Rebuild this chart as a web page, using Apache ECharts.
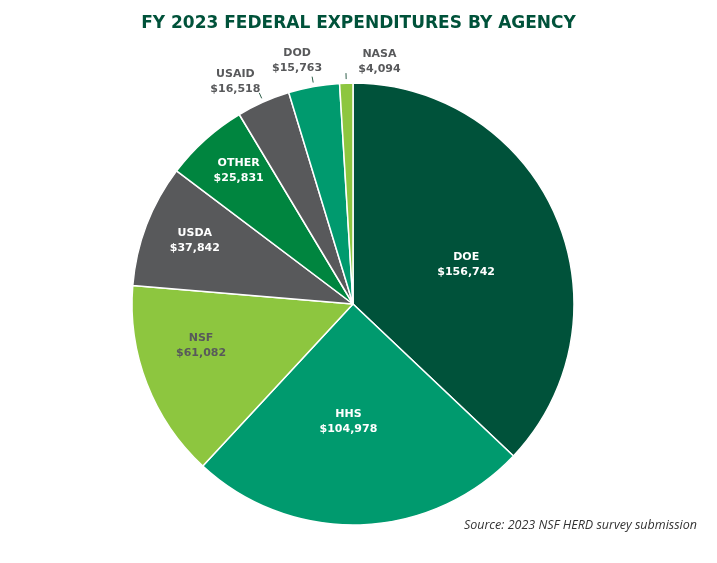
<!DOCTYPE html>
<html><head><meta charset="utf-8">
<script src="https://cdn.jsdelivr.net/npm/echarts@6/dist/echarts.min.js"></script>
<style>html,body{margin:0;padding:0;background:#fff}#c{width:717px;height:563px}</style>
</head><body><div id="c"></div>
<script>
const agencies = ['DOE','HHS','NSF','USDA','OTHER','USAID','DOD','NASA'];
const amounts = [156742,104978,61082,37842,25831,16518,15763,4094];
const sliceColors = ['#00523A','#009A6E','#8DC63F','#58595B','#00853F','#58595B','#009A6E','#8DC63F'];
const labelColors = ['#ffffff','#ffffff','#58595B','#ffffff','#ffffff','#58595B','#58595B','#58595B'];
const titleText = 'FY 2023 FEDERAL EXPENDITURES BY AGENCY';
const sourceText = 'Source: 2023 NSF HERD survey submission';

const FONT = 'DejaVu Sans';
const C = [353, 304];
const R = 221;
const fmt = v => '$' + v.toLocaleString('en-US');

function labelSeries(show, r0, r1, nudges) {
  return {
    type: 'pie', center: C, radius: [r0, r1], startAngle: 90, clockwise: true,
    silent: true, avoidLabelOverlap: false, animation: false,
    itemStyle: { color: 'rgba(0,0,0,0)', borderWidth: 0 },
    labelLine: { show: false },
    data: agencies.map((a, i) => ({
      name: a, value: amounts[i],
      label: {
        show: show.includes(a), position: 'inside',
        formatter: a + '\n' + fmt(amounts[i]),
        color: labelColors[i], fontFamily: FONT, fontWeight: 'bold',
        fontSize: 11, lineHeight: 15
      }
    })),
    labelLayout: nudges ? (p => nudges[agencies[p.dataIndex]] || {}) : undefined
  };
}

const outside = ['USAID','DOD','NASA'];
const option = {
  animation: false,
  title: {
    text: titleText, left: 'center', top: 10,
    textStyle: { fontFamily: FONT, fontWeight: 'bold', fontSize: 17, color: '#00523A' }
  },
  graphic: [{
    type: 'text', right: 20, top: 519,
    style: { text: sourceText, fontFamily: 'Open Sans', fontStyle: 'italic', fontSize: 12.5, fill: '#333' }
  }],
  series: [
    {
      type: 'pie', center: C, radius: R, startAngle: 90, clockwise: true,
      avoidLabelOverlap: false, animation: false,
      itemStyle: { borderColor: '#ffffff', borderWidth: 1.5 },
      label: { show: false }, labelLine: { show: false },
      emphasis: { disabled: true },
      data: agencies.map((a, i) => ({ name: a, value: amounts[i], itemStyle: { color: sliceColors[i] } }))
    },
    // leader lines for small slices
    {
      type: 'pie', center: C, radius: [0, R + 4], startAngle: 90, clockwise: true,
      silent: true, avoidLabelOverlap: false, animation: false,
      itemStyle: { color: 'rgba(0,0,0,0)', borderWidth: 0 },
      data: agencies.map((a, i) => ({
        name: a, value: amounts[i],
        label: { show: outside.includes(a), position: 'outside', formatter: '.', color: 'rgba(0,0,0,0)', fontSize: 4 },
        labelLine: { show: outside.includes(a), length: 6, length2: 0, lineStyle: { color: '#2f5f4a', width: 1 } }
      }))
    },
    labelSeries(['DOE','HHS'], 15, R, { HHS: { dx: -8.5, dy: -3 }, DOE: { dx: 2, dy: 8 } }),
    labelSeries(['NSF','USDA'], 71, R, { NSF: { dx: -13, dy: -12 }, USDA: { dx: -19, dy: -10 } }),
    labelSeries(['OTHER'], 133, R, { OTHER: { dx: 6, dy: 0.5 } }),
    labelSeries(outside, R, 269, { USAID: { dx: -17, dy: 4.5 }, DOD: { dx: -12, dy: 1 }, NASA: { dx: 34, dy: 6 } })
  ]
};
echarts.init(document.getElementById('c')).setOption(option);
</script></body></html>
